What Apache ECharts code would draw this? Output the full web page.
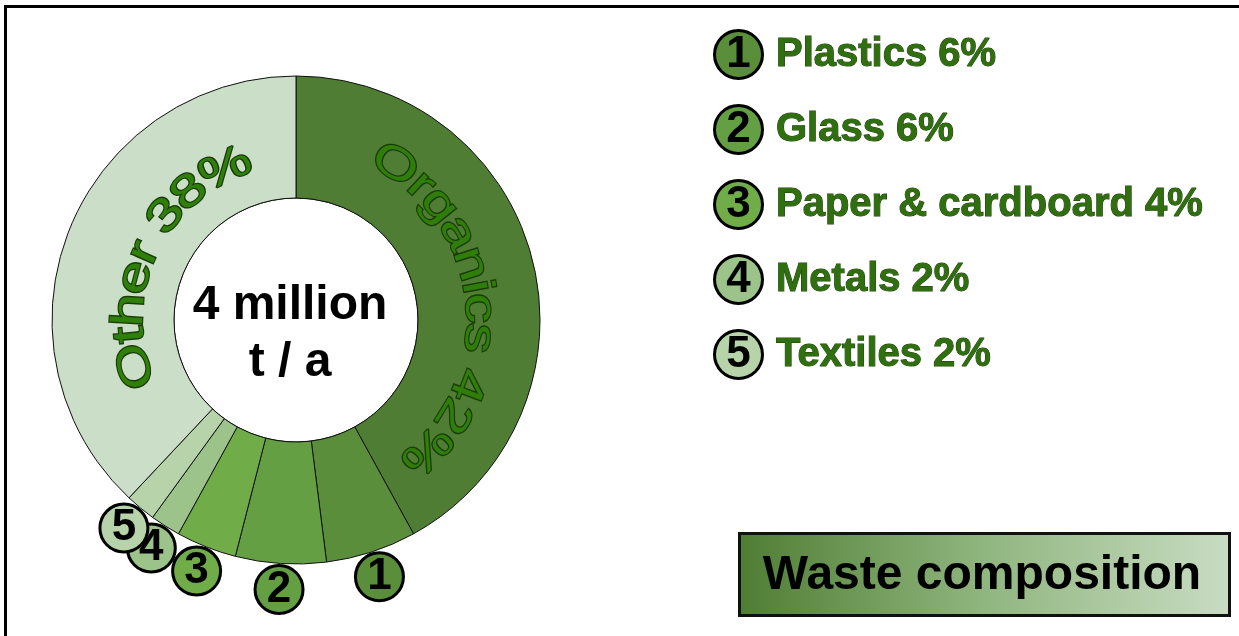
<!DOCTYPE html>
<html>
<head>
<meta charset="utf-8">
<script src="https://cdn.jsdelivr.net/npm/echarts@6/dist/echarts.min.js"></script>
<style>
html,body{margin:0;padding:0;background:#fff;}
#chart{width:1239px;height:636px;}
</style>
</head>
<body>
<div id="chart"></div>
<script>
// ---- data ----
const categories = ['Organics', 'Plastics', 'Glass', 'Paper & cardboard', 'Metals', 'Textiles', 'Other'];
const shares = [42, 6, 6, 4, 2, 2, 38];
const markerNumbers = [null, 1, 2, 3, 4, 5, null];
const centerText = ['4 million', 't / a'];
const titleText = 'Waste composition';

// ---- styles ----
const sliceColors = ['#4f7d33', '#5a8e3a', '#64a043', '#70ad48', '#9cc38a', '#b6d3a9', '#cbdec7'];
const CX = 296, CY = 320, R0 = 122, R1 = 244;
const FONT = '"Liberation Sans", Arial, sans-serif';

const chart = echarts.init(document.getElementById('chart'), null, {renderer: 'canvas'});

// curved text along the ring, glyph centres from angle a0 to a1 (deg, clockwise from 12 o'clock)
function arcText(str, a0, a1, r, fontSize, sx, fill, stroke) {
  const font = 'normal ' + fontSize + 'px ' + FONT;
  const ctx = document.createElement('canvas').getContext('2d');
  ctx.font = font;
  const chars = Array.from(str);
  const w = chars.map(c => ctx.measureText(c).width * sx);
  const n = chars.length;
  const total = w.reduce((a, b) => a + b, 0);
  const base = total - w[0] / 2 - w[n - 1] / 2;
  const arcLen = (a1 - a0) * Math.PI / 180 * r;
  const sp = (arcLen - base) / (n - 1);
  const els = [];
  let cum = 0;
  for (let i = 0; i < n; i++) {
    const centre = cum + w[i] / 2 - w[0] / 2 + i * sp;
    cum += w[i];
    const th = a0 * Math.PI / 180 + centre / r;
    if (chars[i] === ' ') continue;
    els.push({
      type: 'text', silent: true, z: 20,
      x: CX + r * Math.sin(th), y: CY - r * Math.cos(th),
      rotation: -th, scaleX: sx,
      style: {text: chars[i], font: font, fill: fill, stroke: stroke, lineWidth: 2.2, strokeFirst: true,
              align: 'center', verticalAlign: 'middle'}
    });
  }
  return els;
}

const legendRich = {
  t: {fontSize: 40, fontWeight: 'bold', fontFamily: FONT, color: '#2f6f0f',
      textBorderColor: '#1b3a05', textBorderWidth: 1, padding: [0, 0, 0, 15], verticalAlign: 'middle'}
};
for (let i = 1; i <= 5; i++) {
  legendRich['c' + i] = {
    width: 45, height: 45, lineHeight: 48, align: 'center', verticalAlign: 'middle',
    backgroundColor: sliceColors[i], borderColor: '#000', borderWidth: 3, borderRadius: 25,
    fontSize: 44, fontWeight: 'bold', fontFamily: FONT, color: '#000'
  };
}

const mainData = categories.map((c, i) => ({name: c, value: shares[i], itemStyle: {color: sliceColors[i]}}));
const markerData = categories.map((c, i) => ({
  name: c, value: shares[i],
  label: markerNumbers[i] == null ? {show: false} : {
    show: true,
    backgroundColor: sliceColors[i]
  }
}));

const option = {
  animation: false,
  legend: {
    orient: 'vertical', left: 706, top: 24, itemGap: 24,
    icon: 'none', itemWidth: 0, itemHeight: 0, selectedMode: false,
    data: categories.filter((c, i) => markerNumbers[i] != null),
    formatter: function (name) {
      const i = categories.indexOf(name);
      return '{c' + markerNumbers[i] + '|' + markerNumbers[i] + '}{t|' + name + ' ' + shares[i] + '%}';
    },
    textStyle: {rich: legendRich}
  },
  series: [
    {
      type: 'pie', center: [CX, CY], radius: [R0, R1], startAngle: 90, clockwise: true,
      silent: true, emphasis: {disabled: true},
      itemStyle: {borderColor: '#111', borderWidth: 1},
      label: {show: false}, labelLine: {show: false},
      data: mainData
    },
    {
      type: 'pie', center: [CX, CY], radius: [267, 267], startAngle: 90, clockwise: true,
      silent: true, emphasis: {disabled: true}, avoidLabelOverlap: false,
      labelLayout: {hideOverlap: false},
      itemStyle: {color: 'transparent', borderWidth: 0},
      labelLine: {show: false},
      label: {
        show: true, position: 'inside',
        formatter: p => String(markerNumbers[p.dataIndex]),
        width: 45, height: 45, lineHeight: 48, align: 'center', verticalAlign: 'middle',
        borderColor: '#000', borderWidth: 3, borderRadius: 25,
        fontSize: 44, fontWeight: 'bold', fontFamily: FONT, color: '#000'
      },
      data: markerData
    }
  ],
  graphic: [
    // frame
    {type: 'polyline', silent: true, shape: {points: [[5.5, 640], [5.5, 6.5], [1245, 6.5]]},
     style: {stroke: '#000', lineWidth: 3, fill: null}},
    // inner white disc outline
    {type: 'circle', silent: true, shape: {cx: CX, cy: CY, r: R0}, style: {fill: '#fff', stroke: '#111', lineWidth: 1}},
    {type: 'text', silent: true, z: 20, x: 290, y: 334,
     style: {text: centerText.join('\n'), font: 'bold 48px ' + FONT, fill: '#000',
             align: 'center', verticalAlign: 'middle', lineHeight: 57}},
    // title box
    {type: 'rect', silent: true, shape: {x: 739.5, y: 533.5, width: 490, height: 82},
     style: {fill: new echarts.graphic.LinearGradient(0, 0, 1, 0, [
       {offset: 0, color: '#4f7d33'}, {offset: 0.5, color: '#90b67f'}, {offset: 1, color: '#c9dcc3'}]),
       stroke: '#111', lineWidth: 3}},
    {type: 'text', silent: true, x: 982, y: 576,
     style: {text: titleText, font: 'bold 48px ' + FONT, fill: '#000', align: 'center', verticalAlign: 'middle'}}
  ]
    .concat(arcText(categories[0] + ' ' + shares[0] + '%', 32.5, 134.9, 183, 45, 1.33, '#2f7e0a', '#1a3a06'))
    .concat(arcText(categories[6] + ' ' + shares[6] + '%', 254, 335, 166, 45, 1.33, '#2f800a', '#1a3a06'))
};
chart.setOption(option);
</script>
</body>
</html>
